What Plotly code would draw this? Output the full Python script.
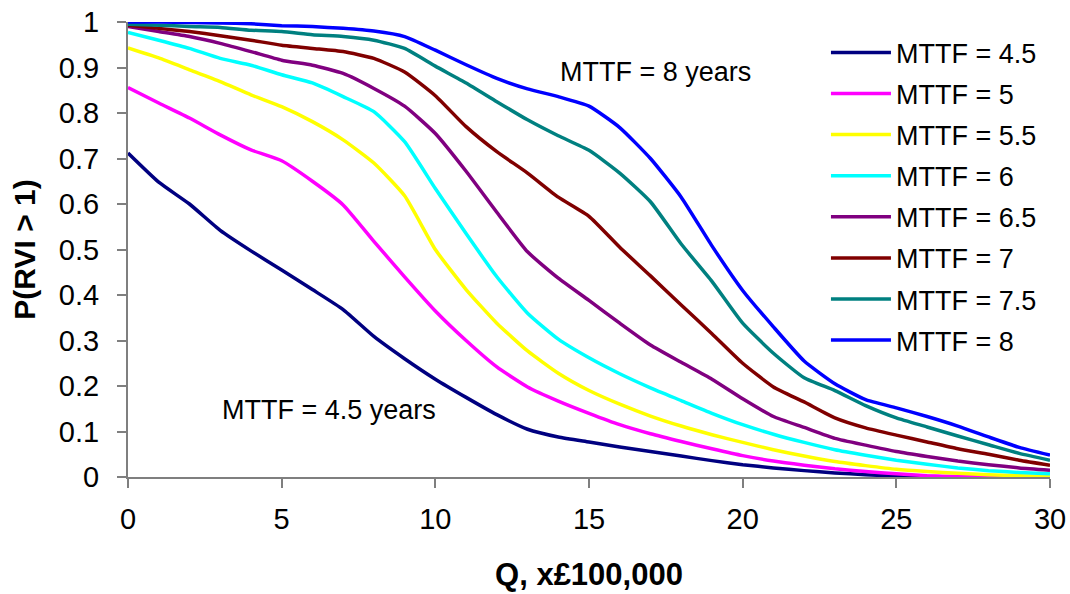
import plotly.graph_objects as go

# Q in units of £100,000
q = list(range(0, 31))

mttf_labels = ["MTTF = 4.5", "MTTF = 5", "MTTF = 5.5", "MTTF = 6",
               "MTTF = 6.5", "MTTF = 7", "MTTF = 7.5", "MTTF = 8"]

p_45 = [0.712, 0.648, 0.600, 0.542, 0.497, 0.455, 0.412, 0.368, 0.309, 0.260,
        0.215, 0.175, 0.137, 0.105, 0.088, 0.077, 0.066, 0.056, 0.046, 0.036,
        0.027, 0.020, 0.014, 0.009, 0.005, 0.002, 0.001, 0.0, 0.0, 0.0, 0.0]
p_50 = [0.856, 0.822, 0.789, 0.752, 0.719, 0.695, 0.650, 0.598, 0.518, 0.440,
        0.365, 0.300, 0.242, 0.198, 0.167, 0.140, 0.115, 0.095, 0.078, 0.062,
        0.047, 0.035, 0.026, 0.018, 0.012, 0.007, 0.003, 0.001, 0.0, 0.0, 0.0]
p_55 = [0.943, 0.921, 0.895, 0.869, 0.840, 0.814, 0.781, 0.741, 0.690, 0.618,
        0.500, 0.412, 0.338, 0.277, 0.228, 0.190, 0.160, 0.134, 0.112, 0.093,
        0.076, 0.060, 0.046, 0.034, 0.025, 0.017, 0.012, 0.008, 0.005, 0.003, 0.001]
p_60 = [0.977, 0.960, 0.942, 0.920, 0.905, 0.884, 0.866, 0.836, 0.803, 0.737,
        0.634, 0.535, 0.440, 0.360, 0.303, 0.262, 0.227, 0.196, 0.168, 0.140,
        0.115, 0.094, 0.076, 0.060, 0.048, 0.037, 0.028, 0.020, 0.014, 0.010, 0.007]
p_65 = [0.990, 0.979, 0.968, 0.953, 0.935, 0.916, 0.905, 0.887, 0.854, 0.815,
        0.755, 0.672, 0.582, 0.495, 0.437, 0.388, 0.338, 0.290, 0.252, 0.215,
        0.172, 0.133, 0.109, 0.085, 0.070, 0.056, 0.045, 0.035, 0.027, 0.020, 0.015]
p_70 = [0.993, 0.986, 0.979, 0.970, 0.960, 0.949, 0.942, 0.935, 0.920, 0.890,
        0.838, 0.770, 0.715, 0.668, 0.615, 0.573, 0.505, 0.442, 0.378, 0.315,
        0.250, 0.198, 0.165, 0.130, 0.108, 0.092, 0.077, 0.062, 0.050, 0.037, 0.026]
p_75 = [0.995, 0.993, 0.990, 0.988, 0.982, 0.979, 0.972, 0.968, 0.960, 0.942,
        0.903, 0.866, 0.825, 0.785, 0.750, 0.718, 0.668, 0.605, 0.512, 0.430,
        0.338, 0.272, 0.218, 0.190, 0.157, 0.130, 0.110, 0.090, 0.071, 0.052, 0.037]
p_80 = [1.000, 1.000, 0.999, 0.998, 0.996, 0.992, 0.990, 0.986, 0.980, 0.968,
        0.938, 0.906, 0.876, 0.853, 0.836, 0.815, 0.768, 0.700, 0.615, 0.508,
        0.410, 0.330, 0.255, 0.205, 0.170, 0.152, 0.133, 0.112, 0.088, 0.065, 0.048]

series = [p_45, p_50, p_55, p_60, p_65, p_70, p_75, p_80]
colors = ["#000080", "#FF00FF", "#FFFF00", "#00FFFF",
          "#800080", "#800000", "#008080", "#0000FF"]

FONT = "Arial, 'Liberation Sans', sans-serif"

fig = go.Figure()
for i, (name, vals, col) in enumerate(zip(mttf_labels, series, colors)):
    fig.add_trace(go.Scatter(
        x=q, y=vals, name=name, mode="lines",
        line=dict(color=col, width=3.5, shape="spline", smoothing=0.5),
        legendgroup=f"g{i}",
    ))

fig.add_annotation(x=14.0, y=0.89, xref="x", yref="y", text="MTTF = 8 years",
                   showarrow=False, xanchor="left", yanchor="middle",
                   font=dict(family=FONT, size=27, color="black"))
fig.add_annotation(x=3.0, y=0.147, xref="x", yref="y", text="MTTF = 4.5 years",
                   showarrow=False, xanchor="left", yanchor="middle",
                   font=dict(family=FONT, size=27, color="black"))

axis_common = dict(
    showgrid=False, zeroline=False, showline=True, automargin=False,
    linecolor="#7f7f7f", linewidth=2,
    ticks="outside", ticklen=9, tickwidth=2, tickcolor="#7f7f7f",
    tickfont=dict(family=FONT, size=29, color="black"),
)

fig.update_layout(
    width=1070, height=594,
    margin=dict(l=128, r=20, t=22, b=117),
    paper_bgcolor="white", plot_bgcolor="white",
    font=dict(family=FONT, color="black"),
    xaxis=dict(range=[0, 30], dtick=5, tick0=0, ticklabelstandoff=6,
               title=dict(text="<b>Q, x£100,000</b>",
                          font=dict(family=FONT, size=31, color="black"),
                          standoff=30),
               **axis_common),
    yaxis=dict(range=[0, 1], dtick=0.1, tick0=0, ticklabelstandoff=12,
               title=dict(text="<b>P(RVI > 1)</b>",
                          font=dict(family=FONT, size=30, color="black"),
                          standoff=14),
               **axis_common),
    legend=dict(x=0.757, y=0.986, xanchor="left", yanchor="top",
                font=dict(family=FONT, size=27, color="black"),
                bgcolor="rgba(0,0,0,0)", tracegroupgap=3,
                itemwidth=60),
    showlegend=True,
)

fig.write_html("out.html")
